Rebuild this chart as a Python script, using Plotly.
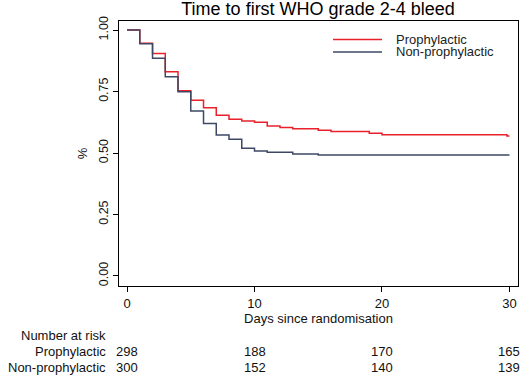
import plotly.graph_objects as go

# ---- data ----
days_pro = [0, 1, 2, 3, 4, 5, 6, 7, 8, 9, 10, 11, 12, 13, 15, 16, 19, 20, 29.8, 30]
surv_pro = [1.0, 0.946, 0.905, 0.831, 0.753, 0.715, 0.684, 0.654, 0.637, 0.630,
            0.625, 0.610, 0.604, 0.599, 0.593, 0.588, 0.580, 0.574, 0.569, 0.569]
days_non = [0, 1, 2, 3, 4, 5, 6, 7, 8, 9, 10, 11, 13, 15, 30]
surv_non = [1.0, 0.944, 0.885, 0.810, 0.749, 0.671, 0.620, 0.573, 0.556, 0.519,
            0.508, 0.503, 0.496, 0.492, 0.492]

groups = ["Prophylactic", "Non-prophylactic"]
risk_days = [0, 10, 20, 30]
risk_pro = [298, 188, 170, 165]
risk_non = [300, 152, 140, 139]

x_ticks = [0, 10, 20, 30]
y_ticks = [0, 0.25, 0.5, 0.75, 1.0]

title = "Time to first WHO grade 2-4 bleed"
x_title = "Days since randomisation"
y_title = "%"

red = "#e8212a"
navy = "#3e4866"
FONT = "Liberation Sans, Arial, sans-serif"

fig = go.Figure()
fig.add_trace(go.Scatter(x=days_pro, y=surv_pro, mode="lines", line_shape="hv",
                         line=dict(color=red, width=1.5), name=groups[0], showlegend=False))
fig.add_trace(go.Scatter(x=days_non, y=surv_non, mode="lines", line_shape="hv",
                         line=dict(color=navy, width=1.5), name=groups[1], showlegend=False))

L, R, T, B = 119, 2, 21, 90
W, H = 520, 376
pw, ph = W - L - R, H - T - B

def px_x(p):
    return (p - L) / pw

def px_y(p):
    return (H - B - p) / ph

# manual legend (inside plot)
leg = [(groups[0], red, 39.5), (groups[1], navy, 52)]
for name, col, yy in leg:
    fig.add_shape(type="line", xref="paper", yref="paper",
                  x0=px_x(333), x1=px_x(382), y0=px_y(yy), y1=px_y(yy),
                  line=dict(color=col, width=1.5))
    fig.add_annotation(xref="paper", yref="paper", x=px_x(394), y=px_y(yy),
                       text=name, showarrow=False, xanchor="left", yanchor="middle",
                       font=dict(size=13, color="#222", family=FONT))

# number at risk table
fig.add_annotation(xref="paper", yref="paper", x=px_x(108), y=px_y(335),
                   text="Number at risk", showarrow=False, xanchor="right", yanchor="middle",
                   font=dict(size=13, color="#111", family=FONT))
for name, vals, yy in [(groups[0], risk_pro, 351.5), (groups[1], risk_non, 367)]:
    fig.add_annotation(xref="paper", yref="paper", x=px_x(108), y=px_y(yy),
                       text=name, showarrow=False, xanchor="right", yanchor="middle",
                       font=dict(size=13, color="#111", family=FONT))
    for d, v in zip(risk_days, vals):
        fig.add_annotation(xref="x", yref="paper", x=d, y=px_y(yy),
                           text=str(v), showarrow=False, xanchor="center", yanchor="middle",
                           font=dict(size=13, color="#111", family=FONT))

fig.update_layout(
    width=W, height=H,
    margin=dict(l=L, r=R, t=T, b=B, autoexpand=False),
    paper_bgcolor="white", plot_bgcolor="white",
    font=dict(family=FONT, size=13, color="#111"),
    title=dict(text=title, x=(L + px_x(318) * pw) / W, xanchor="center",
               y=1 - 9 / H, yanchor="middle", yref="container",
               font=dict(size=18, color="#000", family=FONT)),
    showlegend=False,
)
fig.update_xaxes(range=[-0.63, 30.67], tickvals=x_ticks, ticks="outside", ticklen=5,
                 tickcolor="#000", showline=True, linecolor="#000", linewidth=1,
                 mirror=True, showgrid=False, zeroline=False,
                 title=dict(text=x_title, standoff=0, font=dict(size=13)),
                 tickfont=dict(size=13))
fig.update_yaxes(range=[-0.041, 1.037], tickvals=y_ticks, tickformat=".2f",
                 ticks="outside", ticklen=5, tickangle=-90,
                 tickcolor="#000", showline=True, linecolor="#000", linewidth=1,
                 mirror=True, showgrid=False, zeroline=False,
                 title=dict(text=y_title, standoff=6, font=dict(size=13)),
                 tickfont=dict(size=12.5))

fig.write_html("out.html", config={"displayModeBar": False},
               post_script="document.body.style.margin='0';document.body.style.overflow='hidden';")
